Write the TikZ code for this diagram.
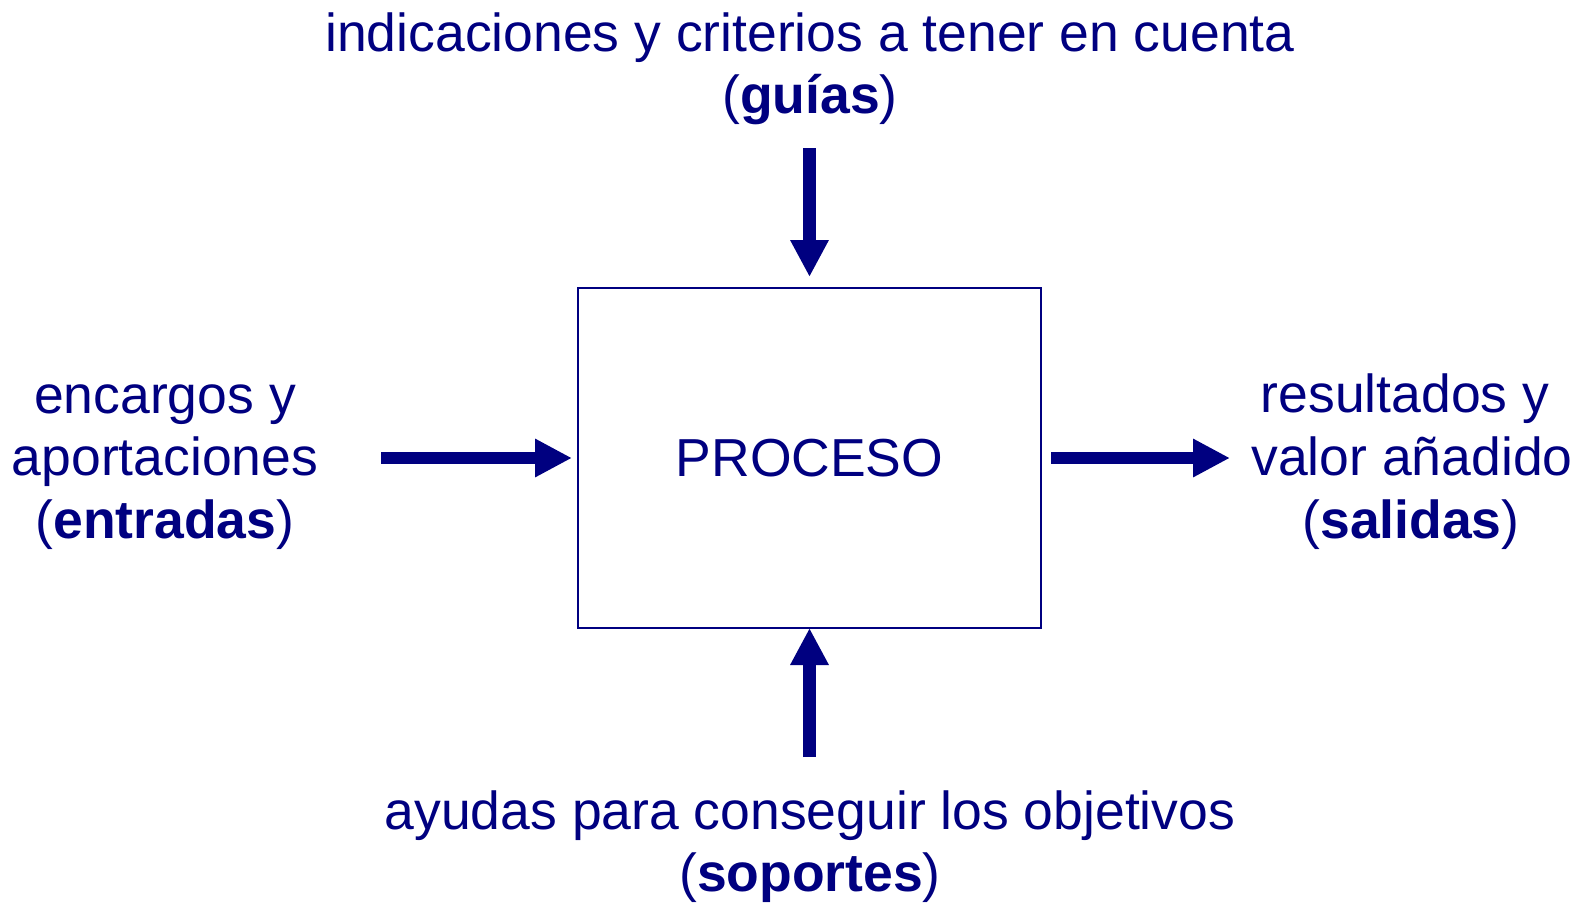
\documentclass[tikz,border=0pt]{standalone}
\usepackage{fontspec}
\setmainfont{Liberation Sans}
\usetikzlibrary{arrows.meta}
\definecolor{navyblue}{RGB}{0,0,128}
\tikzset{
  txt/.style={anchor=base, inner sep=0pt, text=navyblue, font=\fontsize{53.5}{62.5}\selectfont},
  procbox/.style={draw=navyblue, line width=2pt, outer sep=0pt, minimum width=463pt, minimum height=340pt, text=navyblue, font=\fontsize{53.5}{62.5}\selectfont},
  bigarrow/.style={draw=navyblue, line width=12.5pt, -{Triangle[width=36pt,length=37pt]}}
}
\begin{document}
\begin{tikzpicture}[x=1pt,y=-1pt]
\useasboundingbox (0,0) rectangle (1587,902);
\node[procbox] (proc) at (809.5,458) {PROCESO};
% top
\node[txt] (g1) at (810,51) {indicaciones y criterios a tener en cuenta};
\node[txt] (g2) at (810,113.5) {(\textbf{guías})};
% left
\node[txt] (e1) at (165,413) {encargos y};
\node[txt] (e2) at (165,475.5) {aportaciones};
\node[txt] (e3) at (165,538) {(\textbf{entradas})};
% right
\node[txt] (s1) at (1405,412.5) {resultados y};
\node[txt] (s2) at (1412,475.5) {valor añadido};
\node[txt] (s3) at (1411,538.5) {(\textbf{salidas})};
% bottom
\node[txt] (p1) at (810,829) {ayudas para conseguir los objetivos};
\node[txt] (p2) at (810,891.5) {(\textbf{soportes})};
% arrow ends
\coordinate (tstart) at (809.5,148);
\coordinate (bstart) at (809.5,757);
\coordinate (lstart) at (381,458);
\coordinate (rend) at (1230,458);
\draw[bigarrow] (tstart) -- ([yshift=11pt]proc.north);
\draw[bigarrow] (bstart) -- (proc.south);
\draw[bigarrow] (lstart) -- ([xshift=-6pt]proc.west);
\draw[bigarrow] ([xshift=10pt]proc.east) -- (rend);
\end{tikzpicture}
\end{document}
